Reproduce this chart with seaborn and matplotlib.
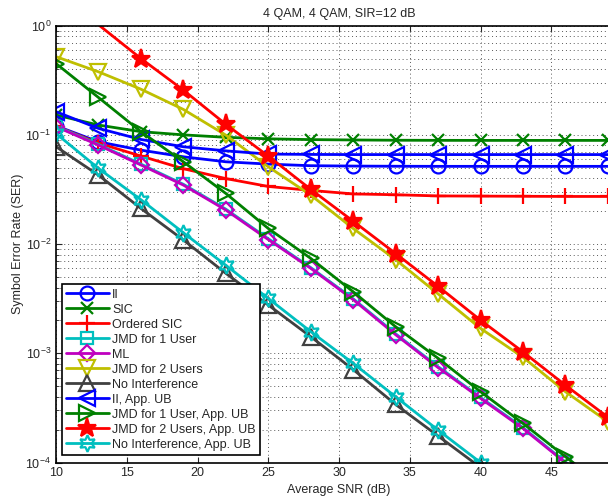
import numpy as np
import pandas as pd
import matplotlib
matplotlib.use('Agg')
import matplotlib.pyplot as plt
import matplotlib.ticker as mticker
import seaborn as sns

# SNR points (dB)
snr = [10, 13, 16, 19, 22, 25, 28, 31, 34, 37, 40, 43, 46, 49]

# symbol error rates
ii = [0.121, 0.0864, 0.0725, 0.063, 0.0567, 0.054, 0.0522, 0.0518, 0.0516, 0.0515, 0.0515, 0.0515, 0.0515, 0.0515]
sic = [0.152, 0.123, 0.107, 0.100, 0.095, 0.092, 0.0905, 0.0898, 0.0893, 0.0891, 0.089, 0.089, 0.089, 0.089]
osic = [0.12, 0.084, 0.064, 0.049, 0.0398, 0.0337, 0.031, 0.0288, 0.0283, 0.0276, 0.0275, 0.0274, 0.0273, 0.0273]
ml = [0.119, 0.0805, 0.053, 0.0347, 0.0205, 0.011, 0.006, 0.0031, 0.00148, 0.00074, 0.000387, 0.000205, 0.0000995, 0.000049]
jmd1 = [0.12, 0.082, 0.054, 0.0353, 0.0209, 0.0112, 0.0061, 0.00316, 0.00151, 0.000755, 0.000395, 0.000209, 0.000101, 0.00005]
jmd2 = [0.52, 0.378, 0.262, 0.171, 0.0995, 0.051, 0.0281, 0.0139, 0.0072, 0.0035, 0.00169, 0.00092, 0.000445, 0.000236]
noint = [0.078, 0.0428, 0.0212, 0.0109, 0.0054, 0.00277, 0.00142, 0.00071, 0.00034, 0.000175, 0.00009]
ii_ub = [0.163, 0.1146, 0.0908, 0.0778, 0.0714, 0.0667, 0.0662, 0.066, 0.066, 0.066, 0.066, 0.066, 0.066, 0.066]
jmd1_ub = [0.45, 0.22, 0.107, 0.0567, 0.0291, 0.0139, 0.0074, 0.00366, 0.00175, 0.0009, 0.000445, 0.000228, 0.000113, 0.000057]
jmd2_ub = [2.05, 1.02, 0.50, 0.257, 0.125, 0.0639, 0.0317, 0.0162, 0.0082, 0.0041, 0.00201, 0.00103, 0.00051, 0.00026]
noint_ub = [0.103, 0.0493, 0.0255, 0.0127, 0.0064, 0.00318, 0.00158, 0.00081, 0.0004, 0.000198, 0.0001]

labels = ['II', 'SIC', 'Ordered SIC', 'JMD for 1 User', 'ML', 'JMD for 2 Users',
          'No Interference', 'II, App. UB', 'JMD for 1 User, App. UB',
          'JMD for 2 Users, App. UB', 'No Interference, App. UB']
series = [ii, sic, osic, jmd1, ml, jmd2, noint, ii_ub, jmd1_ub, jmd2_ub, noint_ub]
colors = ['#0000ff', '#008000', '#ff0000', '#00bfbf', '#bf00bf', '#bfbf00',
          '#404040', '#0000ff', '#008000', '#ff0000', '#00bfbf']
markers = ['o', 'x', '+', 's', 'D', 'v', '^', '<', '>', '*', (6, 1, 0)]
msizes = [10, 8, 11, 9, 8, 11, 11, 11, 11, 14, 12]

sns.set_style('ticks')
plt.rcParams['font.family'] = ['Liberation Sans', 'DejaVu Sans']
plt.rcParams['font.size'] = 9
plt.rcParams['mathtext.fontset'] = 'custom'
plt.rcParams['mathtext.rm'] = 'Liberation Sans'

fig = plt.figure(figsize=(6.08, 5.01), dpi=100)
ax = fig.add_axes([0.0921, 0.0768, 0.931, 0.872])

for lab, vals, c, m, ms in zip(labels, series, colors, markers, msizes):
    x = snr[:len(vals)]
    kw = dict(color=c, marker=m, markersize=ms, markeredgecolor=c,
              markeredgewidth=1.6, linewidth=2, label=lab)
    if m == '*':
        kw['markerfacecolor'] = c
        kw['markevery'] = list(range(2, len(vals)))
    else:
        kw['markerfacecolor'] = 'none'
    sns.lineplot(x=x, y=vals, ax=ax, **kw)

ax.set_yscale('log')
ax.set_xlim(10, 50)
ax.set_ylim(1e-4, 1)
ax.set_xticks([10, 15, 20, 25, 30, 35, 40, 45])
ax.yaxis.set_major_locator(mticker.LogLocator(base=10, numticks=10))
ax.yaxis.set_minor_locator(mticker.LogLocator(base=10, subs=np.arange(2, 10), numticks=20))
ax.yaxis.set_minor_formatter(mticker.NullFormatter())
ax.tick_params(which='both', direction='in', top=True, right=True, labelsize=9)
ax.tick_params(which='major', length=4)
ax.tick_params(which='minor', length=2)
ax.grid(True, which='major', axis='both', linestyle=(0, (1, 3)), color='0.35', linewidth=0.7)
ax.grid(True, which='minor', axis='y', linestyle=(0, (1, 3)), color='0.35', linewidth=0.7)
for s in ax.spines.values():
    s.set_linewidth(1.2)
    s.set_color('black')

ax.set_title('4 QAM, 4 QAM, SIR=12 dB', fontsize=9, pad=6)
ax.set_xlabel('Average SNR (dB)', fontsize=9, labelpad=3)
ax.set_ylabel('Symbol Error Rate (SER)', fontsize=9, labelpad=1)

leg = ax.legend(loc='lower left', bbox_to_anchor=(0.01, 0.017), borderaxespad=0,
                fontsize=9, handlelength=3.4, labelspacing=0.24, handletextpad=0.3,
                borderpad=0.35, fancybox=False, framealpha=1, edgecolor='black')
leg.get_frame().set_linewidth(1.2)
for ln in leg.get_lines():
    ln.set_markevery([1])

fig.savefig('out.png', dpi=100)
